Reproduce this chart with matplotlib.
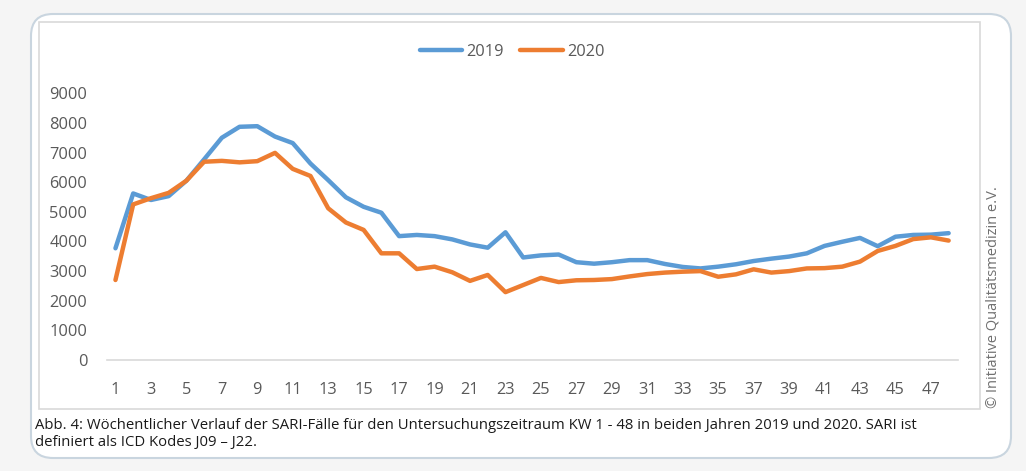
import matplotlib
matplotlib.use("Agg")
import matplotlib.pyplot as plt
from matplotlib.patches import FancyBboxPatch, Rectangle

# Kalenderwochen
weeks = list(range(1, 49))

sari_2019 = [3770, 5620, 5400, 5530, 6050, 6770, 7500, 7870, 7890, 7540,
             7320, 6630, 6070, 5490, 5170, 4970, 4180, 4220, 4180, 4070,
             3900, 3790, 4310, 3460, 3530, 3560, 3300, 3250, 3300, 3370,
             3370, 3240, 3140, 3090, 3150, 3230, 3340, 3420, 3490, 3600,
             3850, 3990, 4120, 3840, 4160, 4220, 4230, 4280]

sari_2020 = [2700, 5250, 5460, 5640, 6050, 6690, 6720, 6670, 6710, 6990,
             6450, 6210, 5120, 4640, 4390, 3600, 3600, 3070, 3150, 2960,
             2670, 2870, 2290, 2530, 2770, 2630, 2690, 2700, 2730, 2820,
             2900, 2950, 2980, 3000, 2810, 2890, 3060, 2950, 3000, 3090,
             3100, 3150, 3320, 3680, 3850, 4080, 4140, 4030]

xticks = list(range(1, 49, 2))
yticks = list(range(0, 10000, 1000))

caption = ("Abb. 4: Wöchentlicher Verlauf der SARI-Fälle für den Untersuchungszeitraum KW 1 - 48 "
           "in beiden Jahren 2019 und 2020. SARI ist\ndefiniert als ICD Kodes J09 – J22.")
credit = "© Initiative Qualitätsmedizin e.V."

plt.rcParams['font.family'] = ['Open Sans', 'DejaVu Sans']

W, H = 1026, 471
fig = plt.figure(figsize=(W / 100, H / 100), dpi=100)
fig.patch.set_facecolor('#f5f5f5')

# background layer in pixel coordinates
bg = fig.add_axes([0, 0, 1, 1], zorder=0)
bg.set_xlim(0, W)
bg.set_ylim(H, 0)
bg.axis('off')
bg.add_patch(FancyBboxPatch((31, 14), 980, 444, boxstyle="round,pad=0,rounding_size=22",
                            facecolor='white', edgecolor='#c9d5df', linewidth=1.5))
bg.add_patch(Rectangle((39, 22), 941, 387, facecolor='white', edgecolor='#d9d9d9', linewidth=1.2))
bg.text(35, 418, caption, fontsize=10.7, color='#1a1a1a', va='top', ha='left', linespacing=1.2)
bg.text(993, 297, credit, fontsize=10.5, color='#707070', rotation=90, va='center', ha='center')

ax = fig.add_axes([106.6 / W, 1 - 360 / H, (957.5 - 106.6) / W, (360 - 93.3) / H], zorder=1)
ax.patch.set_alpha(0)
ax.plot(weeks, sari_2019, color='#5b9bd5', lw=3.2, label='2019', solid_capstyle='round', solid_joinstyle='round')
ax.plot(weeks, sari_2020, color='#ed7d31', lw=3.2, label='2020', solid_capstyle='round', solid_joinstyle='round')

ax.set_xlim(0.5, 48.5)
ax.set_ylim(0, 9000)
ax.set_xticks(xticks)
ax.set_yticks(yticks)
ax.tick_params(length=0, labelsize=11.8, labelcolor='#595959')
ax.tick_params(axis='y', pad=14)
ax.tick_params(axis='x', pad=16)
for s in ['top', 'right', 'left']:
    ax.spines[s].set_visible(False)
ax.spines['bottom'].set_color('#d9d9d9')
ax.spines['bottom'].set_linewidth(1.2)

leg = ax.legend(loc='center', bbox_to_anchor=(512 / W, 1 - 51.7 / H), bbox_transform=fig.transFigure,
                ncol=2, frameon=False, fontsize=11.8, handlelength=2.6, handletextpad=0.25,
                columnspacing=1.0)
for t in leg.get_texts():
    t.set_color('#595959')

fig.savefig('out.png', dpi=100, facecolor=fig.get_facecolor())
